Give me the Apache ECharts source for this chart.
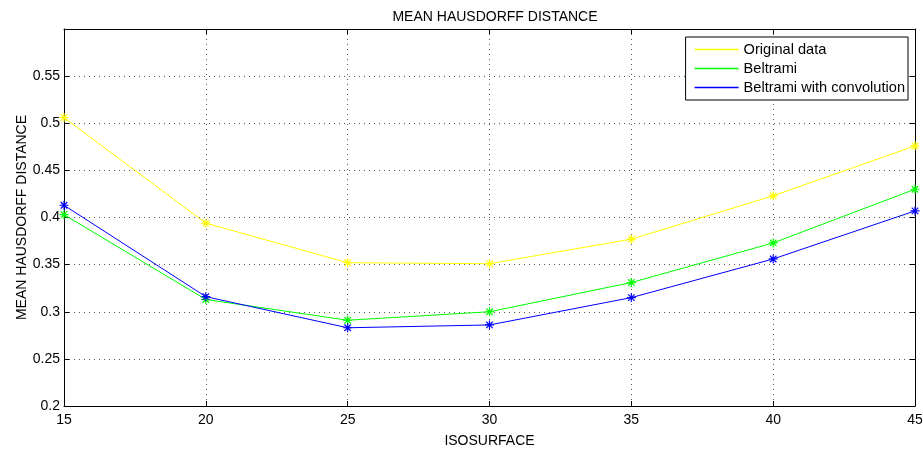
<!DOCTYPE html>
<html>
<head>
<meta charset="utf-8">
<script src="https://cdn.jsdelivr.net/npm/echarts@6/dist/echarts.min.js"></script>
<style>
  html, body { margin: 0; padding: 0; background: #fff; }
  #main { width: 923px; height: 449px; }
</style>
</head>
<body>
<div id="main"></div>
<script>
// iso-surface values on the x axis
const isoValues = [15, 20, 25, 30, 35, 40, 45];
// mean Hausdorff distance per series
const originalData = [0.506, 0.394, 0.352, 0.351, 0.377, 0.423, 0.476];
const beltrami = [0.403, 0.313, 0.291, 0.300, 0.331, 0.373, 0.430];
const beltramiConv = [0.413, 0.316, 0.283, 0.286, 0.315, 0.356, 0.407];
const seriesNames = ['Original data', 'Beltrami', 'Beltrami with convolution'];
const seriesColors = ['#ffff00', '#00ff00', '#0000ff'];

const font = 'Liberation Sans, Arial, sans-serif';
// asterisk marker like matlab '*'
const star = 'path://M0,-5L0,5M-5,0L5,0M-3.6,-3.6L3.6,3.6M-3.6,3.6L3.6,-3.6';

function makeSeries(name, values, color) {
  return {
    name: name,
    type: 'line',
    data: isoValues.map((x, i) => [x, values[i]]),
    lineStyle: { color: color, width: 1 },
    itemStyle: { color: 'none', borderColor: color, borderWidth: 1.2 },
    symbol: star,
    symbolSize: 9,
    showSymbol: true,
    animation: false
  };
}

const chart = echarts.init(document.getElementById('main'));
const dotted = { color: '#555', width: 1, type: [1, 4] };

chart.setOption({
  backgroundColor: '#fff',
  title: {
    text: 'MEAN HAUSDORFF DISTANCE',
    left: 490, top: 5, textAlign: 'center',
    textStyle: { fontFamily: font, fontSize: 14, fontWeight: 'normal', color: '#000' }
  },
  grid: { left: 64, right: 8, top: 29, bottom: 43, outerBoundsMode: 'none' },
  legend: {
    orient: 'vertical',
    right: 15, top: 37,
    padding: [5, 3, 5, 9],
    itemGap: 4,
    itemWidth: 44,
    itemHeight: 1.6,
    icon: 'rect',
    itemStyle: { borderWidth: 0 },
    borderColor: '#000', borderWidth: 1,
    backgroundColor: '#fff',
    textStyle: { fontFamily: font, fontSize: 14.6, color: '#000' },
    data: seriesNames.map((n, i) => ({ name: n, itemStyle: { color: seriesColors[i] } }))
  },
  xAxis: [{
    type: 'value', min: 15, max: 45, interval: 5,
    name: 'ISOSURFACE', nameLocation: 'middle', nameGap: 28,
    nameTextStyle: { fontFamily: font, fontSize: 14, color: '#000' },
    axisLine: { show: true, lineStyle: { color: '#000', width: 1 } },
    axisTick: { show: true, inside: true, length: 5, lineStyle: { color: '#000' } },
    axisLabel: { fontFamily: font, fontSize: 14, color: '#000', margin: 7 },
    splitLine: { show: true, lineStyle: dotted }
  }, {
    type: 'value', min: 15, max: 45, interval: 5, position: 'top',
    axisLine: { show: true, onZero: false, lineStyle: { color: '#000', width: 1 } },
    axisTick: { show: true, inside: true, length: 5, lineStyle: { color: '#000' } },
    axisLabel: { show: false },
    splitLine: { show: false }
  }],
  yAxis: [{
    type: 'value', min: 0.2, max: 0.6, interval: 0.05,
    name: 'MEAN HAUSDORFF DISTANCE', nameLocation: 'middle', nameGap: 35,
    nameMoveOverlap: false,
    nameTextStyle: { fontFamily: font, fontSize: 14, color: '#000' },
    axisLine: { show: true, lineStyle: { color: '#000', width: 1 } },
    axisTick: { show: true, inside: true, length: 5, lineStyle: { color: '#000' } },
    axisLabel: {
      fontFamily: font, fontSize: 14, color: '#000', margin: 4,
      formatter: v => v > 0.59 ? '' : String(+v.toFixed(2))
    },
    splitLine: { show: true, lineStyle: dotted }
  }, {
    type: 'value', min: 0.2, max: 0.6, interval: 0.05, position: 'right',
    axisLine: { show: true, onZero: false, lineStyle: { color: '#000', width: 1 } },
    axisTick: { show: true, inside: true, length: 5, lineStyle: { color: '#000' } },
    axisLabel: { show: false },
    splitLine: { show: false }
  }],
  series: [
    makeSeries(seriesNames[0], originalData, seriesColors[0]),
    makeSeries(seriesNames[1], beltrami, seriesColors[1]),
    makeSeries(seriesNames[2], beltramiConv, seriesColors[2])
  ]
});
</script>
</body>
</html>
